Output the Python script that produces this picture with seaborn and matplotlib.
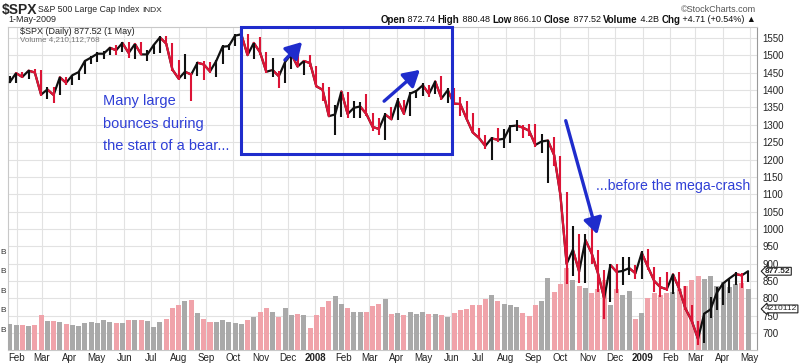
import pandas as pd
import seaborn as sns
import matplotlib
matplotlib.use("Agg")
import matplotlib.pyplot as plt
import matplotlib.transforms as mtransforms
from matplotlib.patches import Rectangle, FancyArrowPatch

# ================================
# 1. Data (weekly)
# ================================
close = [1423, 1449, 1438, 1456, 1451, 1387, 1402, 1386, 1437, 1421,
         1443, 1452, 1484, 1494, 1505, 1505, 1522, 1515, 1536, 1507,
         1533, 1503, 1503, 1530, 1552, 1534, 1459, 1433, 1453, 1445,
         1479, 1474, 1454, 1484, 1525, 1527, 1557, 1561, 1501, 1536,
         1509, 1453, 1458, 1440, 1481, 1504, 1468, 1484, 1478,
         1411, 1401, 1325, 1330, 1396, 1331, 1349, 1353, 1331, 1294,
         1288, 1330, 1316, 1370, 1332, 1390, 1398, 1414, 1389, 1425,
         1376, 1400, 1361, 1360, 1318, 1278, 1262, 1239, 1261, 1257,
         1260, 1296, 1298, 1292, 1283, 1242, 1252, 1255, 1213, 1099,
         899, 940, 877, 968, 930, 873, 800, 896, 876, 879,
         887, 872,
         931, 890, 850, 832, 826, 869, 827, 770, 735, 683,
         756, 768, 816, 843, 857, 870, 866, 878]

high = [1441, 1449, 1453, 1457, 1461, 1459, 1410, 1410, 1438, 1437,
        1444, 1453, 1485, 1498, 1510, 1513, 1523, 1530, 1540, 1540,
        1534, 1540, 1515, 1533, 1556, 1555, 1536, 1488, 1504, 1450,
        1480, 1483, 1482, 1488, 1530, 1534, 1561, 1576, 1563, 1537,
        1552, 1510, 1492, 1455, 1488, 1510, 1523, 1485, 1500,
        1471, 1420, 1410, 1356, 1396, 1396, 1370, 1367, 1388, 1335,
        1321, 1335, 1350, 1376, 1372, 1395, 1400, 1422, 1416, 1425,
        1440, 1406, 1405, 1381, 1370, 1335, 1290, 1271, 1265, 1292,
        1287, 1300, 1313, 1300, 1303, 1303, 1275, 1255, 1265, 1210,
        1106, 1008, 985, 985, 1007, 940, 883, 900, 898, 918,
        918, 896,
        935, 943, 890, 860, 877, 870, 876, 836, 780, 735,
        758, 803, 832, 845, 856, 875, 872, 880]

low = [1420, 1420, 1437, 1433, 1449, 1384, 1374, 1364, 1386, 1416,
       1416, 1430, 1447, 1475, 1480, 1491, 1500, 1500, 1510, 1492,
       1490, 1500, 1484, 1503, 1506, 1530, 1456, 1430, 1433, 1370,
       1440, 1430, 1450, 1439, 1474, 1515, 1526, 1546, 1500, 1490,
       1500, 1448, 1437, 1406, 1420, 1460, 1467, 1445, 1468,
       1410, 1370, 1325, 1270, 1322, 1321, 1320, 1320, 1326, 1282,
       1270, 1256, 1313, 1315, 1328, 1326, 1378, 1384, 1380, 1388,
       1373, 1362, 1358, 1326, 1314, 1277, 1262, 1229, 1200, 1250,
       1233, 1248, 1282, 1263, 1268, 1236, 1220, 1133, 1180, 1097,
       840, 865, 845, 845, 899, 818, 741, 790, 815, 837,
       866, 857,
       855, 883, 818, 804, 820, 812, 820, 766, 730, 666,
       672, 742, 766, 781, 814, 838, 830, 847]

# average daily volume per week, billions
volume = [2.7, 2.6, 2.6, 2.5, 2.6, 3.6, 3.0, 3.0, 2.9, 2.7,
          2.6, 2.5, 2.8, 2.9, 2.8, 3.1, 2.9, 2.8, 2.8, 3.1,
          3.1, 3.1, 3.0, 2.4, 2.9, 3.2, 4.3, 4.6, 5.0, 5.1,
          3.8, 3.2, 2.9, 2.9, 3.1, 2.9, 2.8, 2.7, 3.1, 3.4,
          3.9, 4.3, 3.9, 3.4, 4.3, 3.6, 3.7, 3.6, 2.3,
          3.6, 4.4, 5.0, 5.5, 4.7, 4.3, 3.9, 3.9, 3.9, 4.5,
          4.7, 5.2, 3.7, 3.8, 3.6, 3.9, 3.7, 3.9, 3.7, 3.7,
          3.6, 3.4, 3.8, 4.1, 4.2, 4.6, 4.6, 5.2, 5.6, 5.0,
          4.7, 4.6, 4.4, 3.8, 3.5, 4.6, 5.0, 7.4, 5.9, 6.8,
          8.4, 7.2, 6.6, 6.4, 5.8, 6.2, 7.2, 4.6, 6.2, 5.6,
          6.0, 3.2,
          3.8, 5.3, 5.8, 5.6, 5.8, 5.9, 6.2, 6.6, 7.2, 7.6,
          7.3, 7.6, 6.6, 7.0, 6.5, 6.8, 6.9, 6.2]

week_end = pd.date_range("2007-01-26", periods=len(close), freq="W-FRI")
price_ticks = list(range(700, 1551, 50))
volume_marks = [2, 4, 6, 8, 10]

df = pd.DataFrame({"date": week_end - pd.Timedelta(days=2), "close": close,
                   "high": high, "low": low, "volume": volume})
df["up"] = df["close"].diff().fillna(1) >= 0

UP_COL = "#111111"
DOWN_COL = "#dc1436"
BLUE = "#1f2ccc"
TEXT_BLUE = "#2f3fd6"

# ================================
# 2. Style
# ================================
sns.set_theme(style="white")
plt.rcParams["font.family"] = ["Liberation Sans", "DejaVu Sans"]

W, H = 800, 363
fig = plt.figure(figsize=(8, 3.63), dpi=100)
rect = [8 / W, (H - 350) / H, (757 - 8) / W, (350 - 27) / H]

ax = fig.add_axes(rect)          # grid + price scale
axv = ax.twinx()                 # volume
axp = ax.twinx()                 # price bars

x0, x1 = pd.Timestamp("2007-01-22"), pd.Timestamp("2009-05-09")
ax.set_xlim(x0, x1)
ax.set_ylim(651, 1582)
axp.set_ylim(651, 1582)
axv.set_ylim(0, 33.1)

# grid
month_starts = pd.date_range("2007-02-01", "2009-05-01", freq="MS")
ax.set_xticks(month_starts)
ax.set_yticks(price_ticks)
ax.grid(True, color="#e2e2e2", lw=0.8)
ax.yaxis.tick_right()
ax.tick_params(axis="y", length=0, pad=4, labelsize=7, labelcolor="#222222")
ax.tick_params(axis="x", length=0, pad=2, labelsize=7, labelcolor="#222222")
labels = []
for d in month_starts:
    labels.append(str(d.year) if d.month == 1 else d.strftime("%b"))
ax.set_xticklabels(labels)
for lab in ax.get_xticklabels():
    if lab.get_text().isdigit():
        lab.set_fontweight("bold")
for s in ax.spines.values():
    s.set_color("#c8c8c8")
    s.set_linewidth(0.8)
ax.spines["right"].set_linestyle((0, (1, 1)))
ax.spines["right"].set_color("#999999")

for a in (axv, axp):
    a.set_yticks([])
    a.patch.set_visible(False)
    for s in a.spines.values():
        s.set_visible(False)

# ================================
# 3. Volume bars
# ================================
vol_colors = ["#a9a9a9" if u else "#f0a3aa" for u in df["up"]]
axv.bar(df["date"], df["volume"], width=5.6,
        color=vol_colors, edgecolor="none", align="center")

blend = mtransforms.blended_transform_factory(axv.transAxes, axv.transData)
for v in volume_marks:
    axv.text(-0.007, v, "B", transform=blend, ha="center", va="center",
             fontsize=6, color="#333333", clip_on=False)

# ================================
# 4. Price line
# ================================
sns.lineplot(data=df, x="date", y="close", ax=axp, color=UP_COL, lw=1.6)
for i in range(1, len(df)):
    if not df["up"].iloc[i]:
        axp.plot(df["date"].iloc[i - 1:i + 1], df["close"].iloc[i - 1:i + 1],
                 color=DOWN_COL, lw=1.6)
bar_colors = [UP_COL if u else DOWN_COL for u in df["up"]]
axp.vlines(df["date"], df["low"], df["high"], colors=bar_colors, lw=1.5)
axp.set_xlabel("")
axp.set_ylabel("")
axp.set_yticks([])
ax.set_xlim(x0, x1)

# price / volume tags
pblend = mtransforms.blended_transform_factory(axp.transAxes, axp.transData)
axp.text(1.011, close[-1], "877.52", transform=pblend,
         fontsize=6, fontweight="bold", va="center", ha="left", clip_on=False,
         bbox=dict(boxstyle="larrow,pad=0.05", fc="white", ec="#222222", lw=0.8))
axv.text(1.011, 4.21, "4210112", transform=blend,
         fontsize=6, va="center", ha="left", clip_on=False,
         bbox=dict(boxstyle="larrow,pad=0.05", fc="white", ec="#222222", lw=0.8))

# ================================
# 5. Header texts
# ================================
def fx(px):
    return px / W


def fy(py):
    return 1 - py / H


fig.text(fx(2), fy(10), "$SPX", fontsize=10, fontweight="bold", va="center")
fig.text(fx(38), fy(10), "S&P 500 Large Cap Index", fontsize=6.3, va="center")
fig.text(fx(142), fy(10), "INDX", fontsize=6, va="center")
fig.text(fx(8), fy(20), "1-May-2009", fontsize=6.5, va="center")
fig.text(fx(756), fy(10), "\u00a9StockCharts.com", fontsize=6.5, va="center",
         ha="right", color="#555555")
fig.text(fx(20), fy(31.5), "$SPX (Daily) 877.52 (1 May)", fontsize=6.5,
         va="center", color="#222222")
fig.text(fx(20), fy(39.5), "Volume 4,210,112,768", fontsize=5.8,
         va="center", color="#777777")

quote = [("Open", True), (" 872.74 ", False), ("High", True),
         (" 880.48 ", False), ("Low", True), (" 866.10 ", False),
         ("Close", True), (" 877.52 ", False), ("Volume", True),
         (" 4.2B ", False), ("Chg", True), (" +4.71 (+0.54%) \u25b2", False)]
renderer = fig.canvas.get_renderer()
xr = 756
for txt, bold in reversed(quote):
    t = fig.text(fx(xr), fy(20), txt, fontsize=7 if bold else 6.5,
                 fontweight="bold" if bold else "normal", va="center",
                 ha="right", color="#111111")
    xr -= t.get_window_extent(renderer).width

# ================================
# 6. Annotations
# ================================
fig.add_artist(Rectangle((fx(241), fy(154)), (452 - 241) / W, (154 - 27) / H,
                         transform=fig.transFigure, fill=False,
                         ec=BLUE, lw=2.2))
for txt, py in [("Many large", 101), ("bounces during", 124),
                ("the start of a bear...", 146)]:
    fig.text(fx(103), fy(py), txt, fontsize=10.5, color=TEXT_BLUE, va="center")
fig.text(fx(596), fy(186), "...before the mega-crash", fontsize=10.2,
         color=TEXT_BLUE, va="center")

arrows = [((283, 62), (304, 40)), ((382, 103), (422, 68)),
          ((565, 118), (598, 237))]
for (sx, sy), (ex, ey) in arrows:
    fig.add_artist(FancyArrowPatch(
        (fx(sx), fy(sy)), (fx(ex), fy(ey)), transform=fig.transFigure,
        arrowstyle="-|>,head_length=6,head_width=3.5", color=BLUE, lw=2.4,
        mutation_scale=1.6))

plt.savefig("out.png", dpi=100)
plt.close()
